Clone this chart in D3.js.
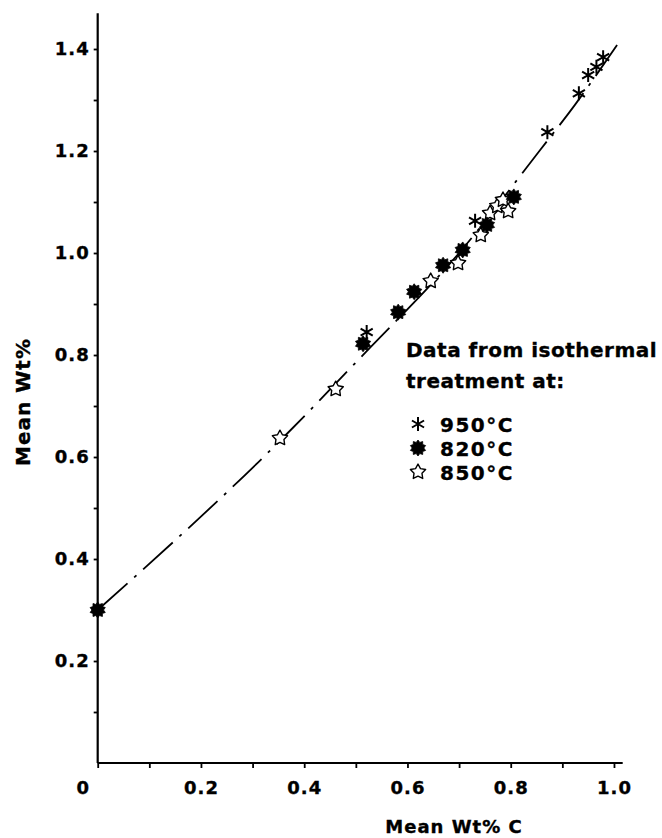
<!DOCTYPE html>
<html>
<head>
<meta charset="utf-8">
<script src="https://cdn.jsdelivr.net/npm/d3@7"></script>
<style>
  body { margin: 0; background: #fff; }
  svg { display: block; }
  text { font-family: "DejaVu Sans", sans-serif; font-weight: bold; fill: #000; stroke: #000; stroke-width: 0.35px; }
</style>
</head>
<body>
<script>
// data (x = mean wt% C, y = mean wt%)
var c950 = [0.521, 0.731, 0.871, 0.932, 0.950, 0.966, 0.979];
var wt950 = [0.845, 1.063, 1.237, 1.313, 1.349, 1.365, 1.384];

var c820 = [0.0, 0.514, 0.582, 0.613, 0.669, 0.707, 0.754, 0.806];
var wt820 = [0.30, 0.822, 0.884, 0.924, 0.976, 1.006, 1.055, 1.110];

var c850 = [0.353, 0.461, 0.645, 0.698, 0.742, 0.760, 0.774, 0.785, 0.795];
var wt850 = [0.637, 0.733, 0.945, 0.980, 1.035, 1.078, 1.092, 1.104, 1.082];

// hand-drawn trend line
var lineC = [0.0, 0.37, 0.51, 0.70, 0.857, 0.924, 1.006];
var lineWt = [0.30, 0.649, 0.796, 1.00, 1.202, 1.29, 1.408];

var xTicks = [0, 0.1, 0.2, 0.3, 0.4, 0.5, 0.6, 0.7, 0.8, 0.9, 1.0];
var yTicks = [0.1, 0.2, 0.3, 0.4, 0.5, 0.6, 0.7, 0.8, 0.9, 1.0, 1.1, 1.2, 1.3, 1.4];
var xLabeled = ['0', '0.2', '0.4', '0.6', '0.8', '1.0'];
var yLabeled = ['0.2', '0.4', '0.6', '0.8', '1.0', '1.2', '1.4'];

var legendTitle = ['Data from isothermal', 'treatment at:'];
var legendItems = ['950°C', '820°C', '850°C'];

var width = 662, height = 838;

var x = d3.scaleLinear().domain([0, 1.0169]).range([97.7, 622.7]);
var y = d3.scaleLinear().domain([0, 1.47]).range([763, 13.3]);

var svg = d3.select('body').append('svg')
  .attr('width', width)
  .attr('height', height);

function fmt(d) {
  return d === 0 ? '0' : d.toFixed(1);
}

// x axis
var gx = svg.append('g')
  .attr('transform', 'translate(0,' + y(0) + ')')
  .call(d3.axisBottom(x)
    .tickValues(xTicks)
    .tickSize(5)
    .tickSizeOuter(0)
    .tickPadding(13)
    .tickFormat(function(d) {
      var s = fmt(d);
      return xLabeled.indexOf(s) >= 0 ? s : '';
    }));
gx.select('.domain').attr('stroke-width', 2.2).attr('d', 'M' + x(0) + ',0H' + x.range()[1]);
gx.selectAll('.tick line').attr('stroke-width', 1.8);
gx.selectAll('.tick text')
  .attr('font-size', 18)
  .attr('font-family', null)
  .style('letter-spacing', '1px')
  .attr('dx', function(d) { return d === 0 ? -15 : 0; });

// y axis
var gy = svg.append('g')
  .attr('transform', 'translate(' + x(0) + ',0)')
  .call(d3.axisLeft(y)
    .tickValues(yTicks)
    .tickSize(4)
    .tickSizeOuter(0)
    .tickPadding(4)
    .tickFormat(function(d) {
      var s = fmt(d);
      return yLabeled.indexOf(s) >= 0 ? s : '';
    }));
gy.select('.domain').attr('stroke-width', 2.2).attr('d', 'M0,' + y(0) + 'V' + y.range()[1]);
gy.selectAll('.tick line').attr('stroke-width', 1.8);
gy.selectAll('.tick text')
  .attr('font-size', 18)
  .attr('font-family', null)
  .style('letter-spacing', '1px');

// axis titles
svg.append('text')
  .attr('x', 454)
  .attr('y', 833)
  .attr('text-anchor', 'middle')
  .attr('font-size', 18)
  .style('letter-spacing', '1px')
  .text('Mean Wt% C');

svg.append('text')
  .attr('transform', 'translate(30,402) rotate(-90)')
  .attr('text-anchor', 'middle')
  .attr('font-size', 20)
  .style('letter-spacing', '1px')
  .text('Mean Wt%');

// trend line
var lineData = lineC.map(function(c, i) { return [c, lineWt[i]]; });
svg.append('path')
  .datum(lineData)
  .attr('fill', 'none')
  .attr('stroke', '#000')
  .attr('stroke-width', 1.8)
  .attr('stroke-dasharray', '40,9,3,9')
  .attr('d', d3.line()
    .x(function(d) { return x(d[0]); })
    .y(function(d) { return y(d[1]); })
    .curve(d3.curveMonotoneX));

// marker shapes
function starPath(n, r1, r2) {
  var pts = d3.range(n * 2).map(function(i) {
    return [i * Math.PI / n, i % 2 === 0 ? r1 : r2];
  });
  return d3.lineRadial().curve(d3.curveLinearClosed)(pts);
}

function asteriskPath(r) {
  var p = '';
  [90, 30, 150].forEach(function(a) {
    var t = a * Math.PI / 180;
    var dx = r * Math.cos(t), dy = r * Math.sin(t);
    p += 'M' + (-dx) + ',' + (-dy) + 'L' + dx + ',' + dy;
  });
  return p;
}

var markers = {
  '950': function(g) {
    g.append('path').attr('d', asteriskPath(7))
      .attr('stroke', '#000').attr('stroke-width', 2).attr('fill', 'none');
  },
  '820': function(g) {
    g.append('path').attr('d', starPath(10, 8, 5.8))
      .attr('fill', '#000').attr('stroke', '#000').attr('stroke-width', 0.8);
  },
  '850': function(g) {
    g.append('path').attr('d', starPath(5, 8, 4.2))
      .attr('fill', '#fff').attr('stroke', '#000').attr('stroke-width', 1.4)
      .attr('stroke-linejoin', 'round');
  }
};

function drawSeries(cs, ws, key) {
  svg.append('g')
    .selectAll('g')
    .data(cs.map(function(c, i) { return [c, ws[i]]; }))
    .enter()
    .append('g')
    .attr('transform', function(d) { return 'translate(' + x(d[0]) + ',' + y(d[1]) + ')'; })
    .each(function() { markers[key](d3.select(this)); });
}

drawSeries(c850, wt850, '850');
drawSeries(c820, wt820, '820');
drawSeries(c950, wt950, '950');

// legend
var legend = svg.append('g');
legend.selectAll('text.title')
  .data(legendTitle)
  .enter()
  .append('text')
  .attr('class', 'title')
  .attr('x', 406)
  .attr('y', function(d, i) { return 357 + i * 31; })
  .attr('font-size', 20)
  .style('letter-spacing', '0.5px')
  .text(function(d) { return d; });

var keys = ['950', '820', '850'];
var item = legend.selectAll('g.item')
  .data(legendItems)
  .enter()
  .append('g')
  .attr('class', 'item')
  .attr('transform', function(d, i) { return 'translate(418,' + (424 + i * 24) + ')'; });
item.each(function(d, i) { markers[keys[i]](d3.select(this)); });
item.append('text')
  .attr('x', 22)
  .attr('y', 7.5)
  .attr('font-size', 20)
  .style('letter-spacing', '1.5px')
  .text(function(d) { return d; });
</script>
</body>
</html>
